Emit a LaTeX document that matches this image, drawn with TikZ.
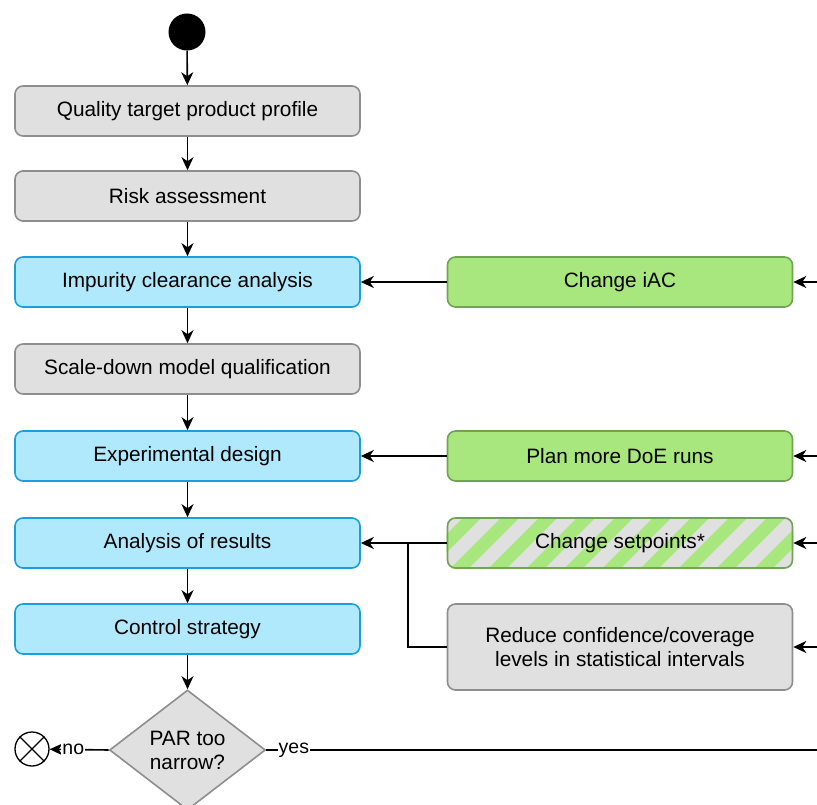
\documentclass[tikz,border=0pt]{standalone}
\usepackage{fontspec}
\setmainfont{Liberation Sans}
\usetikzlibrary{shapes.geometric,arrows.meta,backgrounds}
\definecolor{grayfill}{HTML}{E0E0E0}
\definecolor{graydraw}{HTML}{8E8E8E}
\definecolor{bluefill}{HTML}{B1E9FC}
\definecolor{bluedraw}{HTML}{1B9FDC}
\definecolor{greenfill}{HTML}{A8E67E}
\definecolor{greendraw}{HTML}{71A452}
\tikzset{
  box/.style={rectangle, rounded corners=8pt, line width=1.6pt,
    minimum width=345pt, minimum height=50pt, inner sep=0pt,
    font=\fontsize{20.8}{24}\selectfont, align=center},
  graybox/.style={box, fill=grayfill, draw=graydraw},
  bluebox/.style={box, fill=bluefill, draw=bluedraw},
  greenbox/.style={box, fill=greenfill, draw=greendraw},
  arr/.style={line width=1.6pt, -{Stealth[length=13pt,width=12pt,inset=4pt]}},
  conn/.style={line width=1.6pt},
  edgelabel/.style={fill=white, inner sep=1pt, font=\fontsize{19.5}{22}\selectfont}
}
\begin{document}
\begin{tikzpicture}[x=1pt,y=-1pt]
\useasboundingbox (0,0) rectangle (817,805);
% start and end markers
\node[circle, fill=black, minimum size=37pt, inner sep=0pt] (start) at (187,32) {};
\node[circle, draw=black, line width=1.3pt, minimum size=34pt, inner sep=0pt] (stop) at (32,749) {};
\draw[line width=1.3pt] (stop.north west) -- (stop.south east) (stop.north east) -- (stop.south west);
% main sequence
\node[graybox] (qtpp) at (187.5,111) {Quality target product profile};
\node[graybox] (risk) at (187.5,196) {Risk assessment};
\node[bluebox] (ica) at (187.5,282) {Impurity clearance analysis};
\node[graybox] (sdm) at (187.5,369) {Scale-down model qualification};
\node[bluebox] (doe) at (187.5,456) {Experimental design};
\node[bluebox] (aor) at (187.5,543) {Analysis of results};
\node[bluebox] (cs) at (187.5,629) {Control strategy};
\node[diamond, fill=grayfill, draw=graydraw, line width=1.6pt, inner sep=0pt,
  minimum width=156pt, minimum height=120pt, align=center,
  font=\fontsize{20.8}{24}\selectfont] (par) at (187.5,750) {PAR too\\narrow?};
% corrective actions
\node[greenbox] (iac) at (620,282) {Change iAC};
\node[greenbox] (more) at (620,456) {Plan more DoE runs};
\node[box, draw=greendraw] (setp) at (620,543) {Change setpoints*};
\node[graybox, minimum height=86pt] (conf) at (620,647) {Reduce confidence/coverage\\levels in statistical intervals};
\begin{pgfonlayer}{background}
  \begin{scope}
    \path[clip, rounded corners=8pt] (setp.south west) rectangle (setp.north east);
    \fill[grayfill] (setp.south west) rectangle (setp.north east);
    \foreach \k in {0,...,11} {
      \draw[greenfill, line width=13pt] (410+38*\k,580) -- (410+38*\k+75,505);
    }
  \end{scope}
\end{pgfonlayer}
% incoming loops
\coordinate (in1) at (817,282);
\coordinate (in2) at (817,456);
\coordinate (in3) at (817,543);
\coordinate (in4) at (817,647);
\coordinate (yesend) at (817,750);
\coordinate (split) at (408,543);
% connectors
\draw[arr] (start) -- (qtpp);
\draw[arr] (qtpp) -- (risk);
\draw[arr] (risk) -- (ica);
\draw[arr] (ica) -- (sdm);
\draw[arr] (sdm) -- (doe);
\draw[arr] (doe) -- (aor);
\draw[arr] (aor) -- (cs);
\draw[arr] (cs) -- (par);
\draw[arr] (iac) -- (ica);
\draw[arr] (more) -- (doe);
\draw[arr] (setp) -- (aor);
\draw[conn] (conf.west) -| (split);
\draw[arr] (in1) -- (iac);
\draw[arr] (in2) -- (more);
\draw[arr] (in3) -- (setp);
\draw[arr] (in4) -- (conf);
\draw[arr] (par.west) -- node[edgelabel, pos=0.6] {no} (stop);
\draw[conn] (par.east) -- node[edgelabel, pos=0.05] {yes} (yesend);
\end{tikzpicture}
\end{document}
